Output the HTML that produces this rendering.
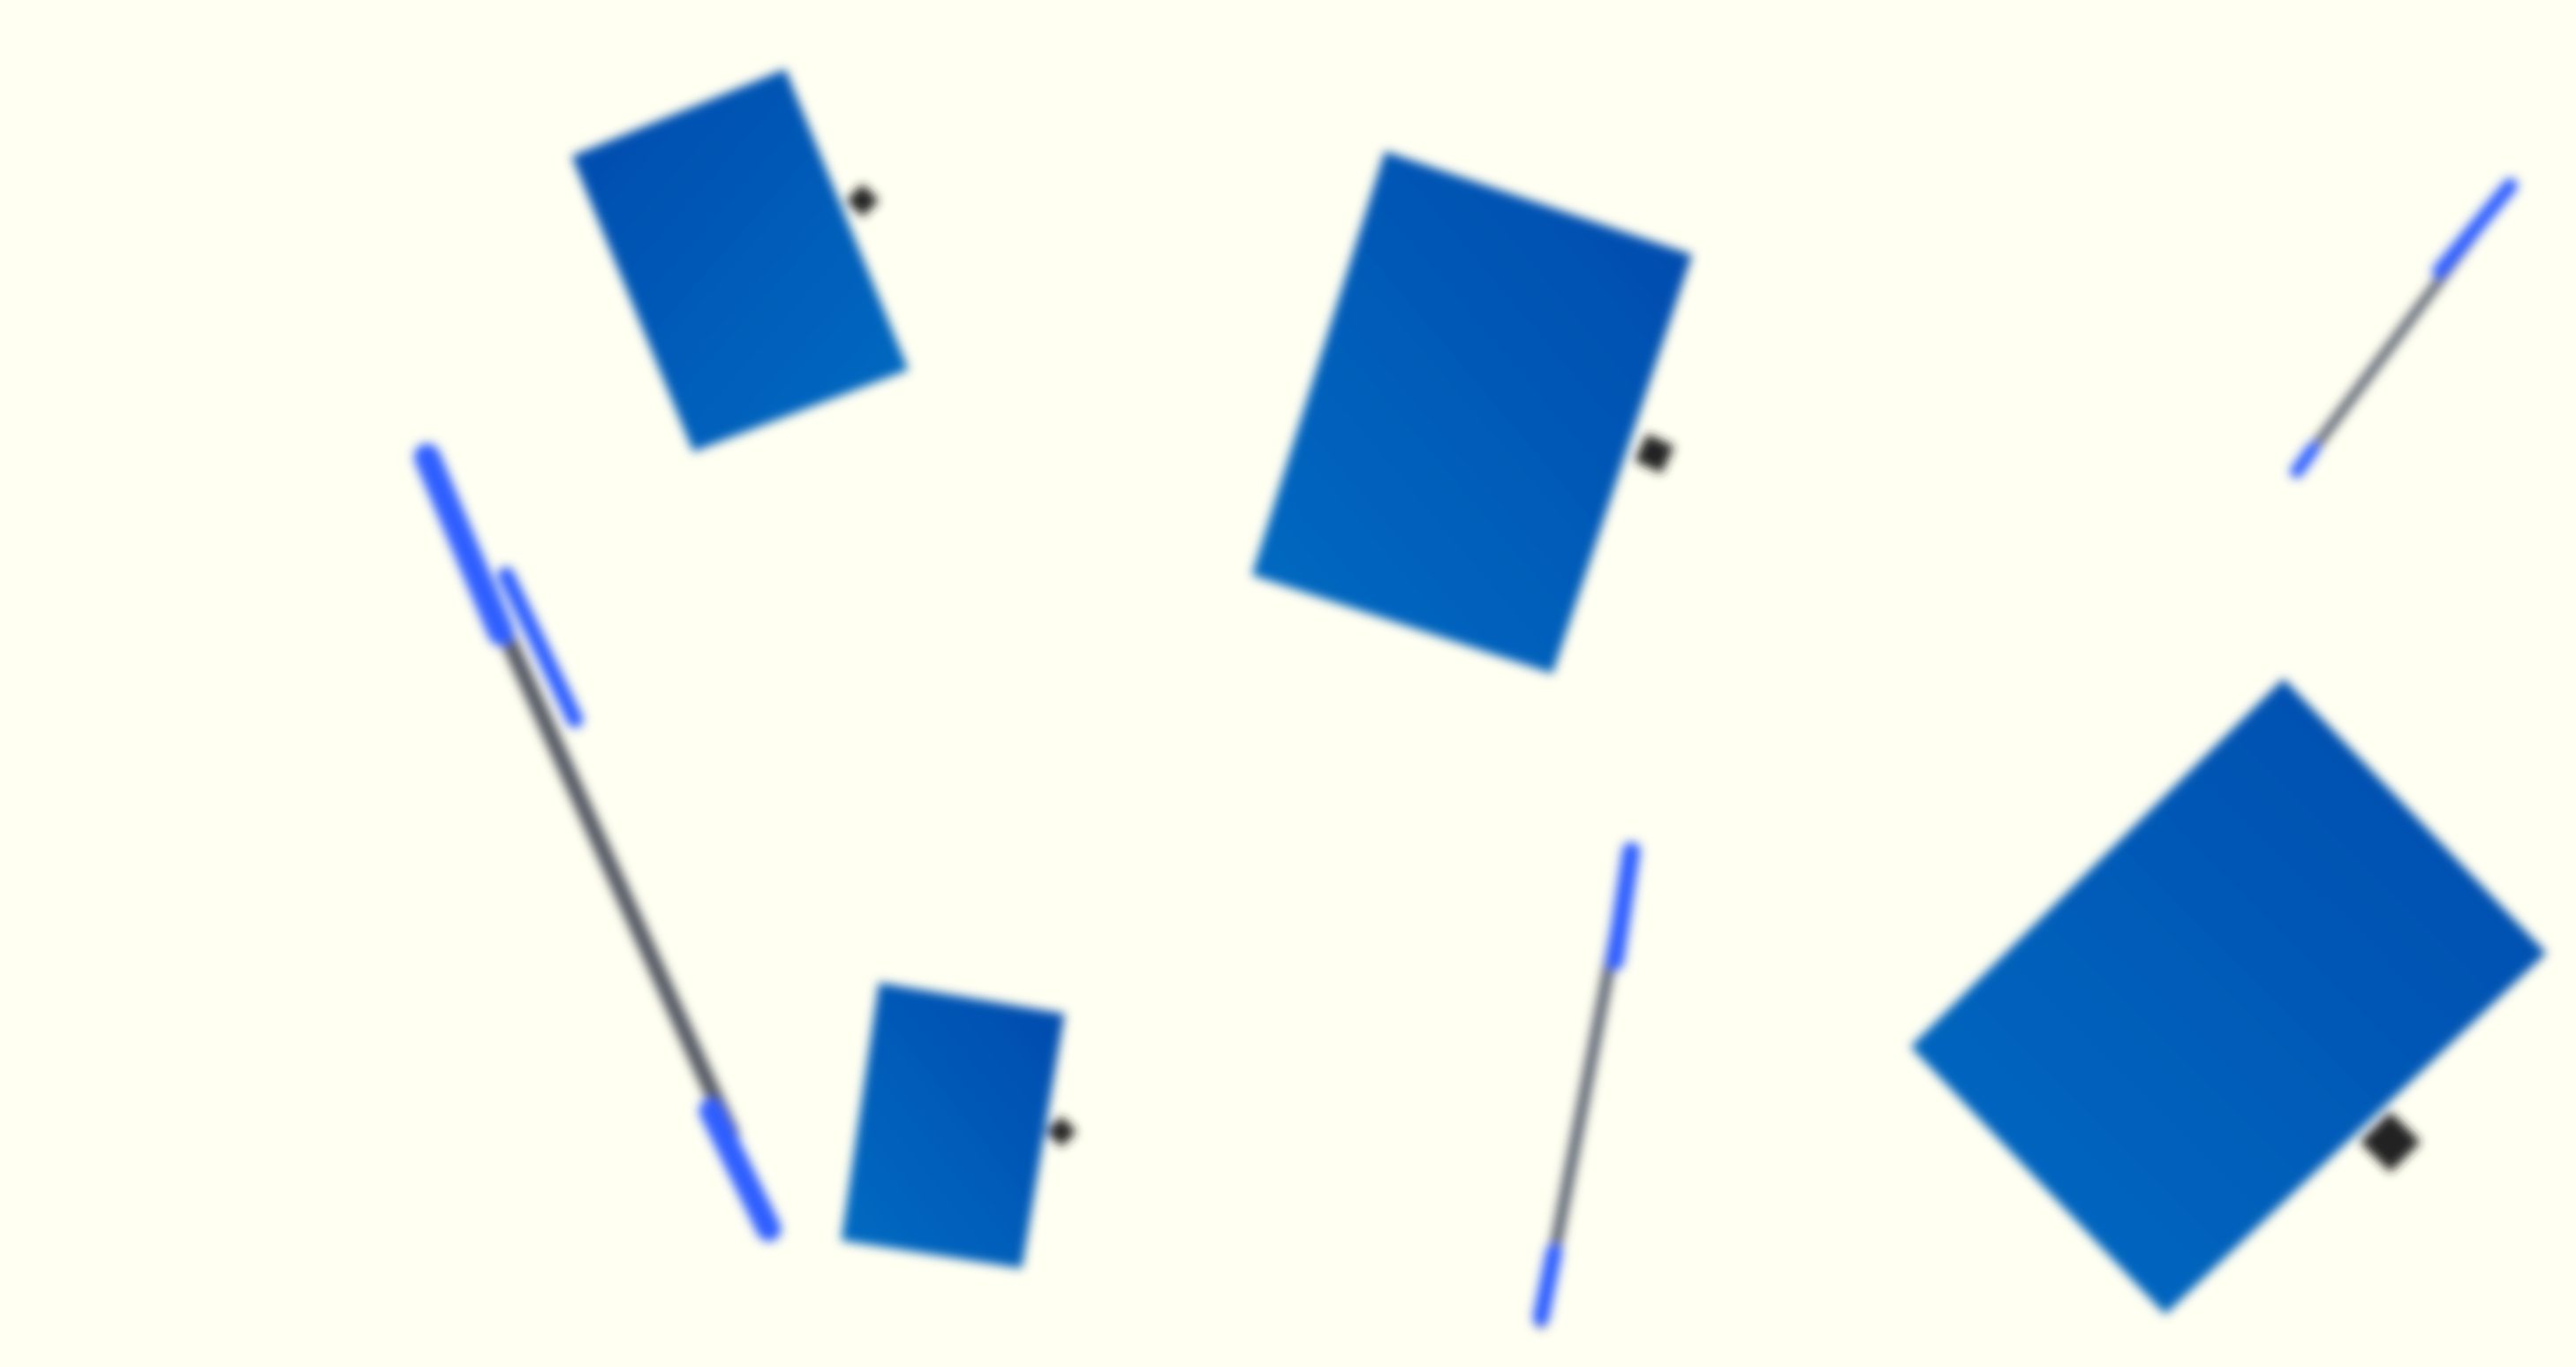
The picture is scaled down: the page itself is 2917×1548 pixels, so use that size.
<!DOCTYPE html>
<html><head><meta charset="utf-8"><style>
html,body{margin:0;padding:0;background:#fffff2;}
svg{display:block;}
</style></head><body>
<svg width="2917" height="1548" viewBox="0 0 1568 832" preserveAspectRatio="none" xmlns="http://www.w3.org/2000/svg">
<defs>
<filter id="b" x="-20%" y="-20%" width="140%" height="140%"><feGaussianBlur stdDeviation="3.2"/></filter>
<linearGradient id="g" x1="0" y1="0" x2="1" y2="1">
<stop offset="0" stop-color="#024aad"/><stop offset="1" stop-color="#056cc2"/></linearGradient>
<linearGradient id="g2" x1="1" y1="0" x2="0" y2="1">
<stop offset="0" stop-color="#024aad"/><stop offset="1" stop-color="#056cc2"/></linearGradient>
</defs>
<rect width="1568" height="832" fill="#fffff2"/>
<g filter="url(#b)">
<polygon points="348,95 478,42 553,225 422,275" fill="url(#g)"/>
<rect x="518" y="115" width="14" height="14" fill="#222" transform="rotate(45 525 122)"/>
<polygon points="843,92 1030,155 945,410 762,350" fill="url(#g2)"/>
<rect x="998" y="267" width="18" height="18" fill="#222" transform="rotate(25 1007 276)"/>
<polygon points="535,598 648,617 622,772 512,755" fill="url(#g2)"/>
<rect x="640" y="682" width="13" height="13" fill="#222" transform="rotate(45 646 688)"/>
<polygon points="1390,413 1550,580 1318,800 1163,637" fill="url(#g2)"/>
<rect x="1442" y="682" width="26" height="26" fill="#222" transform="rotate(45 1455 695)"/>
<line x1="1398" y1="287" x2="1528" y2="113" stroke="#5a6270" stroke-width="6" stroke-linecap="round"/>
<line x1="1398" y1="287" x2="1408" y2="273" stroke="#2f5fff" stroke-width="8" stroke-linecap="round"/>
<line x1="1485" y1="165" x2="1528" y2="113" stroke="#2f5fff" stroke-width="9" stroke-linecap="round"/>
<line x1="305" y1="380" x2="445" y2="690" stroke="#555a64" stroke-width="10" stroke-linecap="round"/>
<line x1="260" y1="278" x2="305" y2="385" stroke="#2f5fff" stroke-width="16" stroke-linecap="round"/>
<line x1="308" y1="350" x2="350" y2="438" stroke="#2f5fff" stroke-width="10" stroke-linecap="round"/>
<line x1="433" y1="676" x2="468" y2="748" stroke="#2f5fff" stroke-width="15" stroke-linecap="round"/>
<line x1="938" y1="805" x2="993" y2="518" stroke="#5a6270" stroke-width="7" stroke-linecap="round"/>
<line x1="938" y1="802" x2="946" y2="762" stroke="#2f5fff" stroke-width="10" stroke-linecap="round"/>
<line x1="983" y1="585" x2="993" y2="518" stroke="#2f5fff" stroke-width="11" stroke-linecap="round"/>
</g>
</svg>
</body></html>
